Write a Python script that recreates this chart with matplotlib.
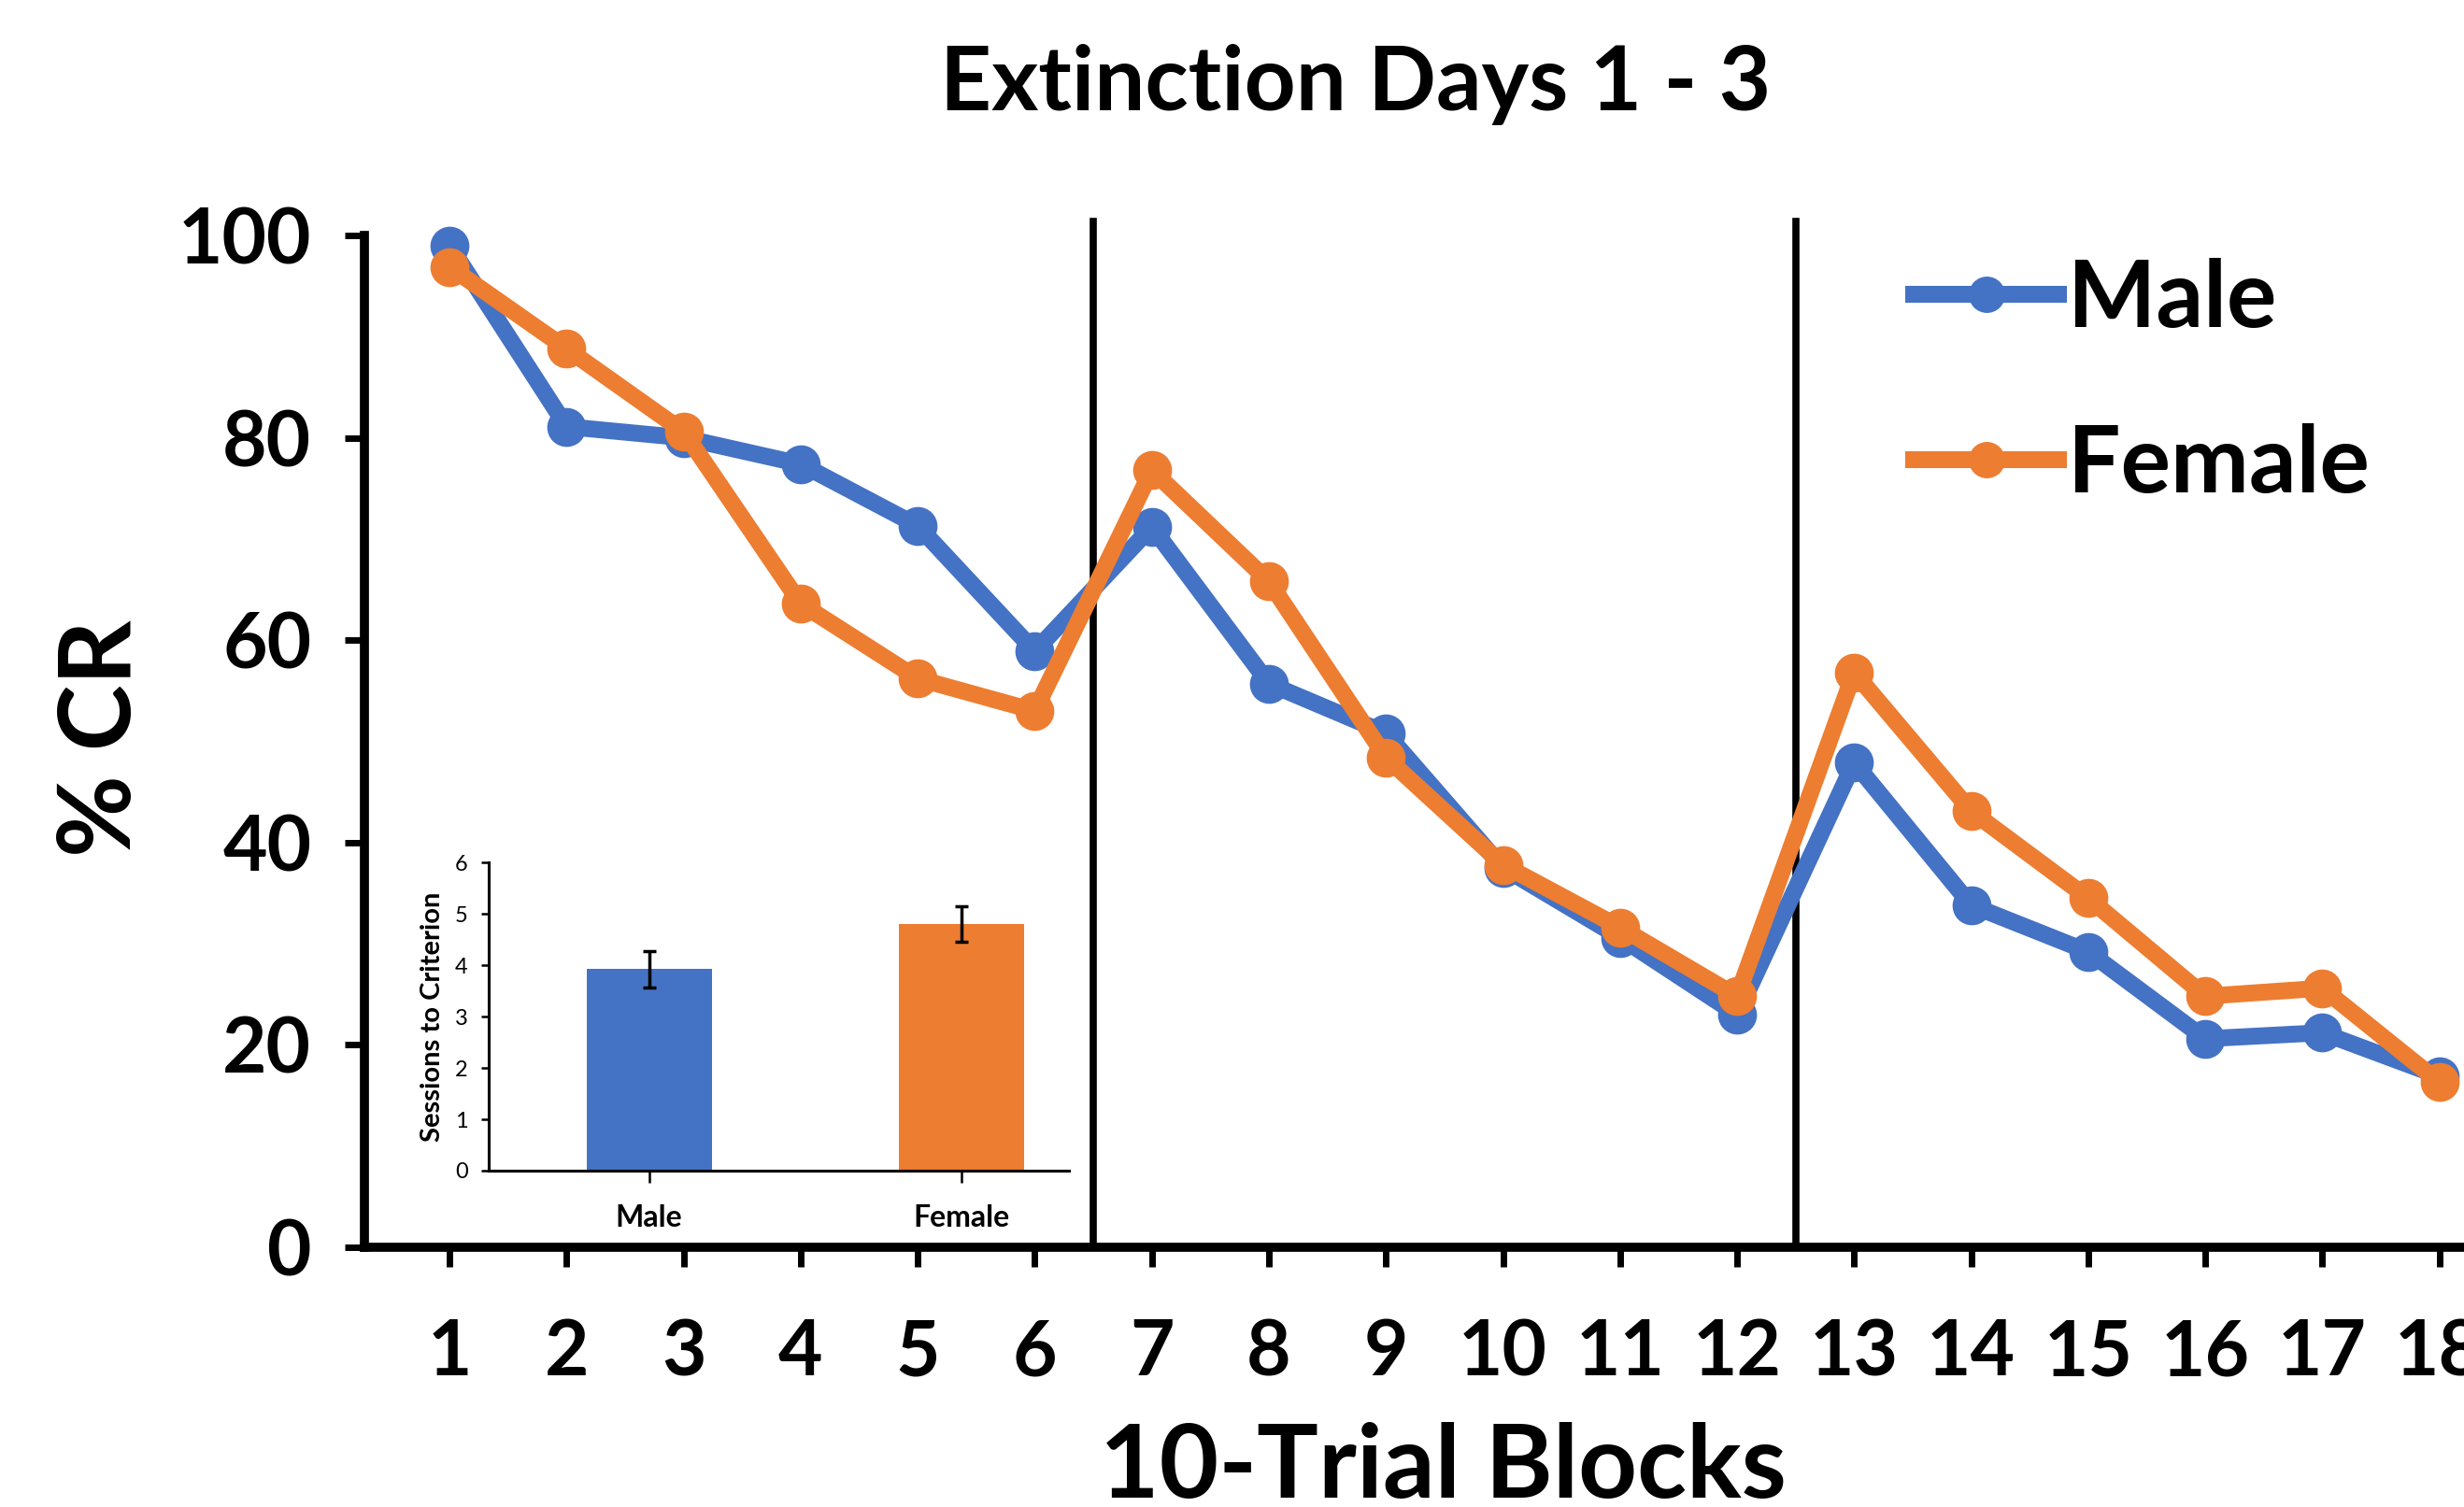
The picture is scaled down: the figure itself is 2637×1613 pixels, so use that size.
import matplotlib
matplotlib.use("Agg")
import matplotlib.pyplot as plt
from matplotlib.lines import Line2D

plt.rcParams['font.family'] = ['Lato', 'DejaVu Sans']

# ---- data ----
blocks = list(range(1, 19))
male = [99.0, 81.1, 80.0, 77.4, 71.3, 58.9, 71.2, 55.7, 50.8, 37.5, 30.6, 23.0,
        47.9, 33.8, 29.2, 20.6, 21.2, 16.9]
female = [96.9, 88.8, 80.6, 63.6, 56.2, 53.0, 76.8, 65.8, 48.4, 37.8, 31.6, 24.8,
          56.8, 43.1, 34.5, 24.8, 25.6, 16.3]
day_breaks = [6.5, 12.5]
y_ticks = [0, 20, 40, 60, 80, 100]

inset_groups = ["Male", "Female"]
inset_means = [3.92, 4.80]
inset_sem = [0.36, 0.345]
inset_ticks = [0, 1, 2, 3, 4, 5, 6]

BLUE = "#4472C4"
ORANGE = "#ED7D31"

fig = plt.figure(figsize=(26.37, 16.13), dpi=100)
ax = fig.add_axes([0.148, 0.1724, 0.852, 0.6714])

ax.plot(blocks, male, color=BLUE, lw=13, marker='o', ms=29, clip_on=False,
        zorder=3, label="Male")
ax.plot(blocks, female, color=ORANGE, lw=13, marker='o', ms=29, clip_on=False,
        zorder=4, label="Female")

for xb in day_breaks:
    ax.axvline(xb, ymin=0, ymax=1.014, color='black', lw=5.5, clip_on=False, zorder=2)

ax.set_xlim(0.275, 18.21)
ax.set_ylim(0, 100)
ax.set_xticks(blocks)
ax.set_yticks(y_ticks)
for s in ['top', 'right']:
    ax.spines[s].set_visible(False)
for s in ['left', 'bottom']:
    ax.spines[s].set_linewidth(7)
ax.tick_params(axis='both', length=15, width=5, direction='out')
ax.tick_params(axis='y', pad=26, labelsize=59)
ax.tick_params(axis='x', pad=40, labelsize=59)
for lab in ax.get_xticklabels() + ax.get_yticklabels():
    lab.set_fontweight('bold')

fig.text(0.550, 0.927, "Extinction Days 1 - 3", fontsize=69, fontweight='bold',
         ha='center', va='baseline')
fig.text(0.5855, 0.006, "10-Trial Blocks", fontsize=79, fontweight='bold',
         ha='center', va='baseline')
fig.text(0.0530, 0.5102, "% CR", fontsize=77, fontweight='bold', rotation=90,
         rotation_mode='anchor', ha='center', va='baseline')

handles = [Line2D([], [], color=BLUE, lw=13, marker='o', ms=27),
           Line2D([], [], color=ORANGE, lw=13, marker='o', ms=27)]
leg = ax.legend(handles, ["Male", "Female"], loc='upper left',
                bbox_to_anchor=(0.7768, 0.829), bbox_transform=fig.transFigure,
                frameon=False, borderaxespad=0, borderpad=0,
                handlelength=1.55, handletextpad=0.1, labelspacing=0.86,
                prop={'size': 72, 'weight': 'bold'})

# ---- inset ----
axi = fig.add_axes([0.1983, 0.2232, 0.2354, 0.2045])
axi.set_facecolor('white')
xpos = list(range(len(inset_groups)))
axi.bar(xpos, inset_means, width=0.40, color=[BLUE, ORANGE], zorder=2)
axi.errorbar(xpos, inset_means, yerr=inset_sem, fmt='none', ecolor='black',
             elinewidth=2.5, capsize=5, capthick=2.5, zorder=3)
axi.set_xlim(-0.513, 1.342)
axi.set_ylim(0, 6)
axi.set_yticks(inset_ticks)
axi.set_xticks(xpos)
axi.set_xticklabels(inset_groups, fontsize=23, fontweight='bold')
for s in ['top', 'right']:
    axi.spines[s].set_visible(False)
for s in ['left', 'bottom']:
    axi.spines[s].set_linewidth(2.2)
axi.tick_params(axis='y', labelsize=17, length=6, width=1.8, pad=10)
axi.tick_params(axis='x', length=9, width=1.8, pad=17)
axi.set_ylabel("Sessions to Criterion", fontsize=21, fontweight='bold', labelpad=8)

fig.savefig("out.png", dpi=100)
